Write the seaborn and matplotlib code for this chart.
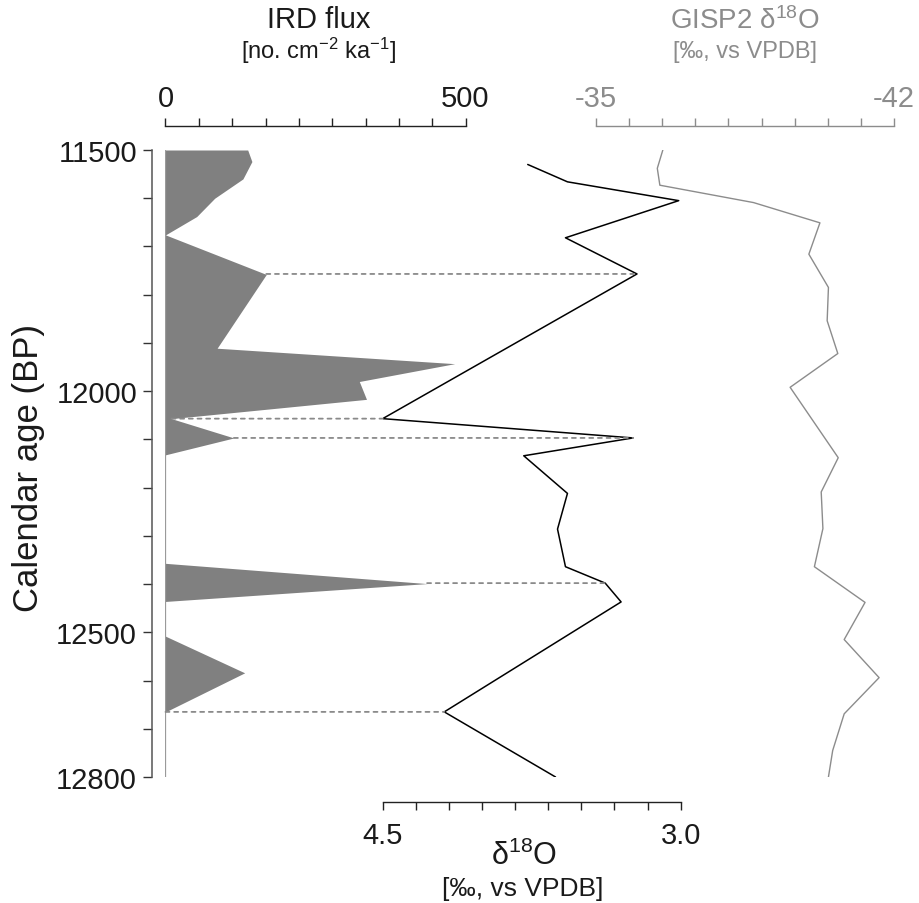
import numpy as np
import matplotlib
matplotlib.use("Agg")
import matplotlib.pyplot as plt
from matplotlib.patches import ConnectionPatch
import seaborn as sns

# ---------------- data ----------------
ird_age = [11500, 11524, 11560, 11600, 11638, 11676, 11758, 11911, 11943, 11980,
           12017, 12057, 12097, 12132, 12357, 12399, 12436, 12508, 12584, 12665, 12800]
ird_flux = [137, 144, 129, 82, 52, 0, 168, 86, 482, 323,
            335, 10, 114, 0, 0, 436, 0, 0, 132, 0, 0]

d18_age = [11530, 11566, 11605, 11682, 11757, 12057, 12097, 12134, 12212, 12286,
           12364, 12398, 12437, 12665, 12800]
d18_val = [3.77, 3.57, 3.01, 3.58, 3.22, 4.50, 3.24, 3.79, 3.57, 3.62,
           3.58, 3.38, 3.30, 4.19, 3.63]

gisp_age = [11500, 11538, 11573, 11609, 11651, 11716, 11785, 11854, 11922, 11992,
            12138, 12209, 12285, 12364, 12438, 12515, 12594, 12669, 12745, 12800]
gisp_val = [-36.57, -36.44, -36.50, -38.70, -40.26, -40.00, -40.46, -40.43, -40.68, -39.56,
            -40.69, -40.29, -40.33, -40.13, -41.32, -40.83, -41.65, -40.83, -40.56, -40.46]

link_age = [11757, 12057, 12097, 12398, 12665]
link_ird = [168, 10, 114, 436, 0]
link_d18 = [3.22, 4.50, 3.24, 3.38, 4.19]

age_ticks = list(range(11500, 12801, 100))
age_labels = {11500: "11500", 12000: "12000", 12500: "12500", 12800: "12800"}
ird_ticks = np.linspace(0, 500, 10)
d18_ticks = np.linspace(4.5, 3.0, 10)
gisp_ticks = np.linspace(-35, -42, 10)

# ---------------- style ----------------
sns.set_style("white")
plt.rcParams["font.family"] = ["Liberation Sans", "DejaVu Sans"]
plt.rcParams["mathtext.default"] = "regular"

W, H = 920, 904
fig = plt.figure(figsize=(W / 100, H / 100), dpi=100)


def fx(p):
    return p / W


def fy(p):
    return 1 - p / H


y_top, y_bot = 151, 778
ax_ird = fig.add_axes([fx(165.5), fy(y_bot), 300 / W, (y_bot - y_top) / H])
ax_d18 = fig.add_axes([fx(382.7), fy(y_bot), 298 / W, (y_bot - y_top) / H])
ax_g = fig.add_axes([fx(596), fy(y_bot), 298 / W, (y_bot - y_top) / H])

for ax in (ax_ird, ax_d18, ax_g):
    ax.set_facecolor("none")
    for s in ax.spines.values():
        s.set_visible(False)
    ax.set_ylim(12800, 11500)

GRAY = "#808080"
LGRAY = "#8c8c8c"

# IRD fill
ax_ird.fill_betweenx(ird_age, 0, ird_flux, color=GRAY, lw=0)
ax_ird.axvline(0, color="#9a9a9a", lw=0.9)
ax_ird.set_xlim(0, 500)

# foram d18O
sns.lineplot(x=d18_val, y=d18_age, sort=False, estimator=None, orient="y",
             color="black", lw=1.1, ax=ax_d18)
ax_d18.set_xlim(4.5, 3.0)
ax_d18.set_ylim(12800, 11500)

# GISP2
sns.lineplot(x=gisp_val, y=gisp_age, sort=False, estimator=None, orient="y",
             color=LGRAY, lw=1.0, ax=ax_g)
ax_g.set_xlim(-35, -42)
ax_g.set_ylim(12800, 11500)

for ax in (ax_ird, ax_d18, ax_g):
    ax.set_xlabel("")
    ax.set_ylabel("")

# dotted connectors
for a, f, d in zip(link_age, link_ird, link_d18):
    con = ConnectionPatch(xyA=(f, a), coordsA="data", axesA=ax_ird,
                          xyB=(d, a), coordsB="data", axesB=ax_d18,
                          color="#8a8a8a", lw=1.3, ls=(0, (2.2, 2.6)))
    fig.add_artist(con)

# ---- axes: left age axis (on ax_ird)
ax_ird.spines["left"].set_visible(True)
ax_ird.spines["left"].set_position(("outward", 10))
ax_ird.spines["left"].set_color("#555555")
ax_ird.spines["left"].set_linewidth(1.1)
ax_ird.set_yticks(age_ticks)
ax_ird.set_yticklabels([age_labels.get(t, "") for t in age_ticks])
ax_ird.tick_params(axis="y", left=True, direction="out", length=6.5, width=1.0,
                   color="#333333", pad=4, labelsize=21, labelcolor="#1a1a1a")

# IRD top axis
ax_ird.spines["top"].set_visible(True)
ax_ird.spines["top"].set_position(("outward", 17))
ax_ird.spines["top"].set_color("#222222")
ax_ird.spines["top"].set_linewidth(1.0)
ax_ird.xaxis.set_ticks_position("top")
ax_ird.set_xticks(ird_ticks)
ax_ird.set_xticklabels(["0"] + [""] * 8 + ["500"])
ax_ird.tick_params(axis="x", top=True, bottom=False, direction="out", length=5.5,
                   width=1.0, color="#222222", pad=5, labelsize=21, labelcolor="#1a1a1a")

# d18O bottom axis
ax_d18.spines["bottom"].set_visible(True)
ax_d18.spines["bottom"].set_position(("outward", 18))
ax_d18.spines["bottom"].set_color("#222222")
ax_d18.spines["bottom"].set_linewidth(1.0)
ax_d18.xaxis.set_ticks_position("bottom")
ax_d18.set_xticks(d18_ticks)
ax_d18.set_xticklabels(["4.5"] + [""] * 8 + ["3.0"])
ax_d18.set_yticks([])
ax_d18.tick_params(axis="x", bottom=True, direction="out", length=5.5, width=1.0,
                   color="#222222", pad=8, labelsize=21, labelcolor="#1a1a1a")

# GISP2 top axis
ax_g.spines["top"].set_visible(True)
ax_g.spines["top"].set_position(("outward", 17))
ax_g.spines["top"].set_color(LGRAY)
ax_g.spines["top"].set_linewidth(1.0)
ax_g.xaxis.set_ticks_position("top")
ax_g.set_xticks(gisp_ticks)
ax_g.set_xticklabels(["-35"] + [""] * 8 + ["-42"])
ax_g.set_yticks([])
ax_g.tick_params(axis="x", top=True, bottom=False, direction="out", length=5.5,
                 width=1.0, color=LGRAY, pad=5, labelsize=21, labelcolor=LGRAY)

# ---- titles
fig.text(fx(319), fy(20), "IRD flux", ha="center", va="center", fontsize=21, color="#1a1a1a")
fig.text(fx(319), fy(51), "[no. cm$^{-2}$ ka$^{-1}$]", ha="center", va="center",
         fontsize=17, color="#1a1a1a")
fig.text(fx(745), fy(21), "GISP2 δ$^{18}$O", ha="center", va="center", fontsize=20, color=LGRAY)
fig.text(fx(745), fy(52), "[‰, vs VPDB]", ha="center", va="center", fontsize=17, color=LGRAY)
fig.text(fx(29), fy(468), "Calendar age (BP)", ha="center", va="center", rotation=90,
         fontsize=25, color="#1a1a1a")
fig.text(fx(524), fy(856), "δ$^{18}$O", ha="center", va="center", fontsize=22, color="#1a1a1a")
fig.text(fx(523), fy(889), "[‰, vs VPDB]", ha="center", va="center", fontsize=19, color="#1a1a1a")

fig.savefig("out.png", dpi=100)
